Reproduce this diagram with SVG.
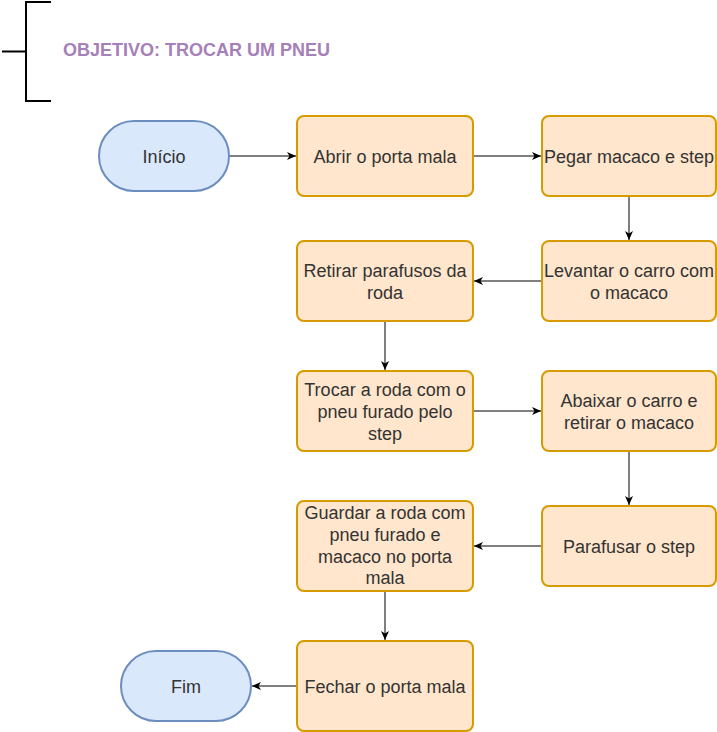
<svg xmlns="http://www.w3.org/2000/svg" width="717" height="732" viewBox="0 0 717 732">
<style>
.proc{fill:#ffe6cc;stroke:#d79b00;stroke-width:2}
.term{fill:#dae8fc;stroke:#6c8ebf;stroke-width:2}
.lbl{font-family:"Liberation Sans",Arial,sans-serif;font-size:18px;fill:#333333;text-anchor:middle}
.edge{stroke:#000;stroke-width:1;fill:none}
.title{font-family:"Liberation Sans",Arial,sans-serif;font-size:18px;font-weight:bold;fill:#a680b8}
</style>
<defs>
<marker id="arr" viewBox="0 0 10 10" refX="9" refY="5" markerWidth="10" markerHeight="10" markerUnits="userSpaceOnUse" orient="auto">
<path d="M0,1 L9,5 L0,9 L2.5,5 Z" fill="#000"/>
</marker>
</defs>
<rect width="717" height="732" fill="#fff"/>
<g id="objetivo">
<path d="M51,2 H26 V101 H51 M2,51.5 H26" fill="none" stroke="#000" stroke-width="2"/>
<text class="title" x="63" y="56">OBJETIVO: TROCAR UM PNEU</text>
</g>
<g id="connectors">
<path class="edge" d="M229,156 H296" marker-end="url(#arr)"/>
<path class="edge" d="M473,156 H541" marker-end="url(#arr)"/>
<path class="edge" d="M629,196 V240" marker-end="url(#arr)"/>
<path class="edge" d="M542,281 H474" marker-end="url(#arr)"/>
<path class="edge" d="M385,321 V370" marker-end="url(#arr)"/>
<path class="edge" d="M473,411 H541" marker-end="url(#arr)"/>
<path class="edge" d="M629,451 V505" marker-end="url(#arr)"/>
<path class="edge" d="M542,546 H474" marker-end="url(#arr)"/>
<path class="edge" d="M385,591 V640" marker-end="url(#arr)"/>
<path class="edge" d="M297,686 H252" marker-end="url(#arr)"/>
</g>
<g id="inicio">
<rect class="term" x="99" y="121" width="130" height="70" rx="35" ry="35"/>
<text class="lbl" x="164" y="162.5">Início</text>
</g>
<g id="abrir">
<rect class="proc" x="297" y="116" width="176" height="80" rx="7"/>
<text class="lbl" x="385" y="162.5">Abrir o porta mala</text>
</g>
<g id="pegar">
<rect class="proc" x="542" y="116" width="174" height="80" rx="7"/>
<text class="lbl" x="629" y="162.5">Pegar macaco e step</text>
</g>
<g id="levantar">
<rect class="proc" x="542" y="241" width="174" height="80" rx="7"/>
<text class="lbl" x="629" y="276.5">Levantar o carro com</text>
<text class="lbl" x="629" y="298.5">o macaco</text>
</g>
<g id="retirar">
<rect class="proc" x="297" y="241" width="176" height="80" rx="7"/>
<text class="lbl" x="385" y="276.5">Retirar parafusos da</text>
<text class="lbl" x="385" y="298.5">roda</text>
</g>
<g id="trocar">
<rect class="proc" x="297" y="371" width="176" height="80" rx="7"/>
<text class="lbl" x="385" y="395.5">Trocar a roda com o</text>
<text class="lbl" x="385" y="417.5">pneu furado pelo</text>
<text class="lbl" x="385" y="439.5">step</text>
</g>
<g id="abaixar">
<rect class="proc" x="542" y="371" width="174" height="80" rx="7"/>
<text class="lbl" x="629" y="406.5">Abaixar o carro e</text>
<text class="lbl" x="629" y="428.5">retirar o macaco</text>
</g>
<g id="parafusar">
<rect class="proc" x="542" y="506" width="174" height="80" rx="7"/>
<text class="lbl" x="629" y="552.5">Parafusar o step</text>
</g>
<g id="guardar">
<rect class="proc" x="297" y="501" width="176" height="90" rx="7"/>
<text class="lbl" x="385" y="519">Guardar a roda com</text>
<text class="lbl" x="385" y="541">pneu furado e</text>
<text class="lbl" x="385" y="562.5">macaco no porta</text>
<text class="lbl" x="385" y="584">mala</text>
</g>
<g id="fechar">
<rect class="proc" x="297" y="641" width="176" height="90" rx="7"/>
<text class="lbl" x="385" y="692.5">Fechar o porta mala</text>
</g>
<g id="fim">
<rect class="term" x="121" y="651" width="130" height="70" rx="35" ry="35"/>
<text class="lbl" x="186" y="692.5">Fim</text>
</g>
</svg>
